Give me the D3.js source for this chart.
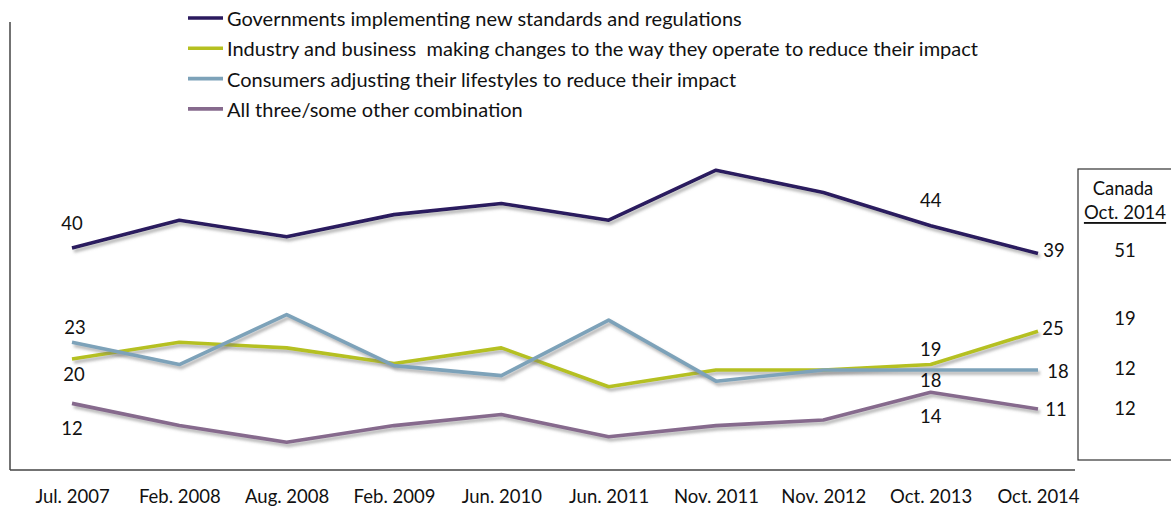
<!DOCTYPE html>
<html>
<head>
<meta charset="utf-8">
<script src="https://cdn.jsdelivr.net/npm/d3@7"></script>
<style>
  html, body { margin: 0; padding: 0; background: #fff; }
  svg { display: block; }
  text { font-family: Lato, "Open Sans", sans-serif; fill: #111; }
</style>
</head>
<body>
<svg id="chart" width="1171" height="508"></svg>
<script>
// ---- data ----
const categories = ["Jul. 2007", "Feb. 2008", "Aug. 2008", "Feb. 2009", "Jun. 2010", "Jun. 2011", "Nov. 2011", "Nov. 2012", "Oct. 2013", "Oct. 2014"];
const seriesNames = [
  "Governments implementing new standards and regulations",
  "Industry and business  making changes to the way they operate to reduce their impact",
  "Consumers adjusting their lifestyles to reduce their impact",
  "All three/some other combination"
];
const governments = [40, 45, 42, 46, 48, 45, 54, 50, 44, 39];
const industry    = [20, 23, 22, 19.2, 22, 15, 18, 18, 19, 25];
const consumers   = [23, 19, 28, 18.8, 17, 27, 16, 18, 18, 18];
const allThree    = [12, 8, 5, 8, 10, 6, 8, 9, 14, 11];
const canadaTitle = ["Canada", "Oct. 2014"];
const canadaValues = ["51", "19", "12", "12"];

const seriesValues = [governments, industry, consumers, allThree];
const colors = ["#2b1a5e", "#b5c020", "#7da2b9", "#866a8d"];

// ---- layout ----
const svg = d3.select("#chart");
const x = d3.scalePoint().domain(categories).range([72, 1038]);
const y = d3.scaleLinear().domain([0, 80.7]).range([470, 22]);
const FS = "18.5px";

// drop shadow
const defs = svg.append("defs");
const f = defs.append("filter").attr("id", "shadow").attr("x", "-5%").attr("y", "-20%").attr("width", "110%").attr("height", "140%");
f.append("feDropShadow").attr("dx", 2).attr("dy", 3).attr("stdDeviation", 1.4)
  .attr("flood-color", "#777").attr("flood-opacity", 0.55);

// axes
svg.append("line").attr("x1", 10).attr("x2", 10).attr("y1", y.range()[1]).attr("y2", y.range()[0])
  .attr("stroke", "#444").attr("stroke-width", 1.5);
svg.append("line").attr("x1", 10).attr("x2", 1075).attr("y1", 470).attr("y2", 470)
  .attr("stroke", "#444").attr("stroke-width", 1.5);

const xAxis = svg.append("g").attr("transform", "translate(0,470)")
  .call(d3.axisBottom(x).tickSize(0).tickPadding(20));
xAxis.select(".domain").remove();
xAxis.selectAll("text").style("font-family", "Lato, sans-serif").style("font-size", FS).attr("fill", "#111");

// lines
const line = d3.line().x((d, i) => x(categories[i])).y(d => y(d));
seriesValues.forEach((vals, s) => {
  svg.append("path").datum(vals).attr("d", line)
    .attr("fill", "none").attr("stroke", colors[s]).attr("stroke-width", 3.6)
    .attr("stroke-linejoin", "round").attr("filter", "url(#shadow)");
});

// data labels: [series, index, dx, dy]
const labelSpecs = [
  [0, 0, 0, -25], [1, 0, 2, 15], [2, 0, 3, -15], [3, 0, 0, 25],
  [0, 8, 0, -26], [1, 8, 0, -16], [2, 8, 0, 10], [3, 8, 0, 24],
  [0, 9, 16, -3], [1, 9, 15, -3], [2, 9, 20, 1], [3, 9, 18, 0]
];
svg.selectAll("text.dl").data(labelSpecs).join("text").attr("class", "dl")
  .attr("x", d => x(categories[d[1]]) + d[2])
  .attr("y", d => y(seriesValues[d[0]][d[1]]) + d[3])
  .attr("text-anchor", "middle").attr("dominant-baseline", "central")
  .style("font-size", FS)
  .text(d => d3.format("d")(Math.round(seriesValues[d[0]][d[1]])));

// legend
const leg = svg.append("g");
seriesNames.forEach((name, i) => {
  const ly = 18 + i * 30.3;
  leg.append("line").attr("x1", 188).attr("x2", 223).attr("y1", ly).attr("y2", ly)
    .attr("stroke", colors[i]).attr("stroke-width", 3.6);
  leg.append("text").attr("x", 227).attr("y", ly).attr("dominant-baseline", "central")
    .style("font-size", "20px").style("white-space", "pre").text(name);
});

// Canada box
svg.append("rect").attr("x", 1078).attr("y", 169).attr("width", 120).attr("height", 291)
  .attr("fill", "none").attr("stroke", "#333").attr("stroke-width", 1.2);
svg.append("text").attr("x", 1123).attr("y", 188).attr("text-anchor", "middle").attr("dominant-baseline", "central")
  .style("font-size", FS).text(canadaTitle[0]);
svg.append("text").attr("x", 1125).attr("y", 212).attr("text-anchor", "middle").attr("dominant-baseline", "central")
  .style("font-size", FS).style("text-decoration", "underline").text(canadaTitle[1]);
const canadaY = [250, 318, 368, 408];
svg.selectAll("text.cv").data(canadaValues).join("text").attr("class", "cv")
  .attr("x", 1125).attr("y", (d, i) => canadaY[i])
  .attr("text-anchor", "middle").attr("dominant-baseline", "central")
  .style("font-size", FS).text(d => d);
</script>
</body>
</html>
